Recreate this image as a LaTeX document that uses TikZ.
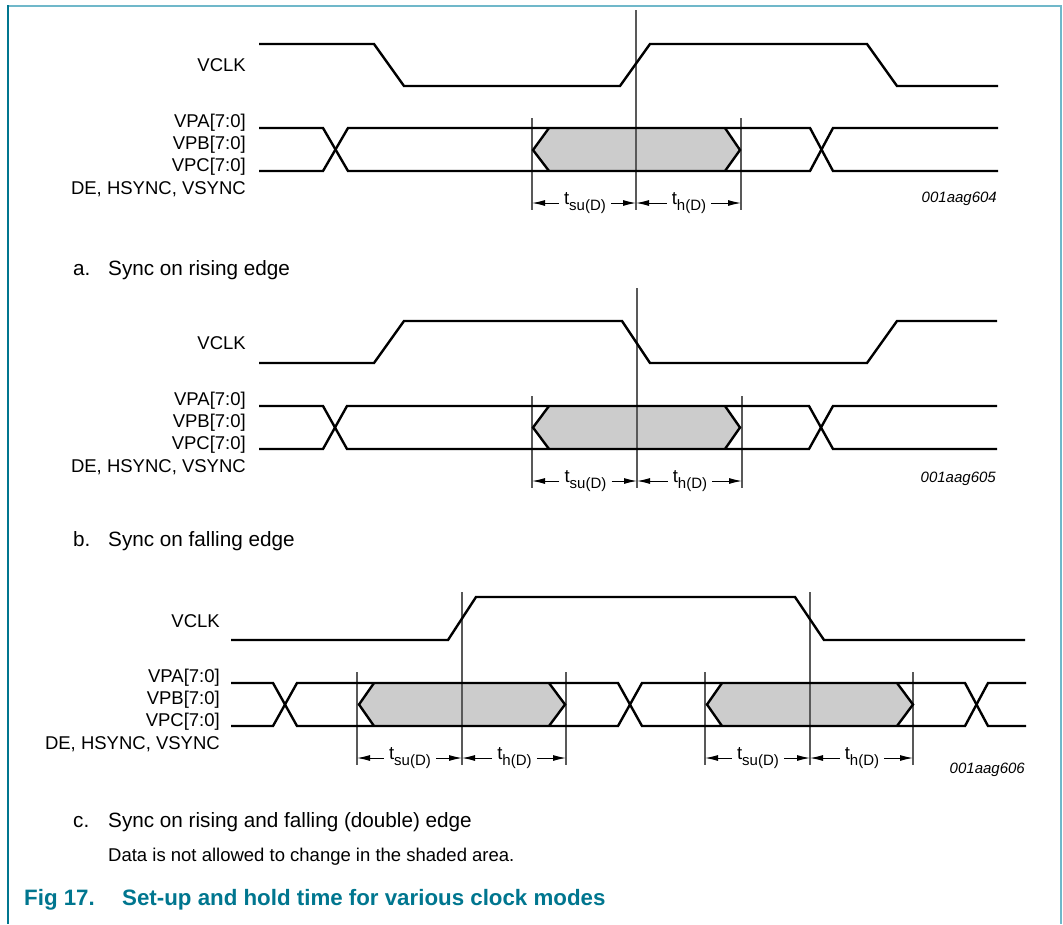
\documentclass[tikz,border=0pt]{standalone}
\usepackage{fontspec}
\setmainfont{Liberation Sans}
\usetikzlibrary{arrows.meta}
\definecolor{nxpteal}{RGB}{0,118,143}
\definecolor{framelight}{RGB}{112,184,202}
\newcommand\tsub[1]{t\raisebox{-0.32em}{\fontsize{15}{15}\selectfont #1}}
\begin{document}
\begin{tikzpicture}[x=1pt,y=-1pt,
  sig/.style={line width=2.4pt,line join=miter},
  guide/.style={line width=1.1pt,draw=black!65},
  hexfill/.style={fill=black!20,draw=none},
  dim/.style={-{Latex[length=13pt,width=6pt]},line width=1pt},
  lab/.style={font=\fontsize{18.5}{20}\selectfont,anchor=base east,inner sep=0pt},
  tlab/.style={font=\fontsize{18.5}{20}\selectfont,inner sep=5pt},
  figid/.style={font=\fontsize{15}{16}\selectfont\itshape,anchor=base east,inner sep=0pt},
  capt/.style={font=\fontsize{20.7}{22}\selectfont,anchor=base west,inner sep=0pt},
  note/.style={font=\fontsize{18.5}{20}\selectfont,anchor=base west,inner sep=0pt},
  figcap/.style={font=\fontsize{22.3}{24}\selectfont\bfseries,text=nxpteal,anchor=base west,inner sep=0pt}]
\useasboundingbox (0,0) rectangle (1063,924);
% frame
\draw[framelight,line width=2pt] (8,6) -- (1061,6) -- (1061,924);
\draw[nxpteal,line width=2pt] (8,5) -- (8,924);

% ================= a =================
\fill[hexfill] (533,150)--(549,128)--(725,128)--(740,150)--(725,171)--(549,171)--cycle;
\draw[guide] (636,10) -- (636,210);
\draw[guide] (532,118) -- (532,210);
\draw[guide] (741,118) -- (741,210);
\draw[sig] (259,44)--(374,44)--(404,86)--(620,86)--(650,44)--(867,44)--(897,86)--(998,86);
\draw[sig] (259,128)--(323,128)--(348,171)--(810,171)--(833,128)--(998,128);
\draw[sig] (259,171)--(323,171)--(348,128)--(810,128)--(833,171)--(998,171);
\draw[sig] (549,128)--(533,150)--(549,171);
\draw[sig] (725,128)--(740,150)--(725,171);
\node[lab] (a-vclk) at (246,71.5) {VCLK};
\node[lab] (a-vpa) at (246,127) {VPA[7:0]};
\node[lab] (a-vpb) at (246,149) {VPB[7:0]};
\node[lab] (a-vpc) at (246,171) {VPC[7:0]};
\node[lab] (a-de) at (246,194) {DE, HSYNC, VSYNC};
\coordinate (a-l) at (532,203);
\coordinate (a-m) at (636,203);
\coordinate (a-r) at (741,203);
\node[tlab] (a-su) at (585,203) {\tsub{su(D)}};
\node[tlab] (a-h) at (689,203) {\tsub{h(D)}};
\draw[dim] (a-su.west |- a-l) -- (a-l);
\draw[dim] (a-su.east |- a-m) -- (a-m);
\draw[dim] (a-h.west |- a-m) -- (a-m);
\draw[dim] (a-h.east |- a-r) -- (a-r);
\node[figid] (a-id) at (997,202) {001aag604};
\node[capt] (a-cl) at (73,275.5) {a.};
\node[capt] (a-ct) at (108,275.5) {Sync on rising edge};

% ================= b =================
\fill[hexfill] (533,427.5)--(549,406)--(725,406)--(740,427.5)--(725,449)--(549,449)--cycle;
\draw[guide] (637,288) -- (637,488);
\draw[guide] (532,396) -- (532,488);
\draw[guide] (742,396) -- (742,488);
\draw[sig] (259,363)--(374,363)--(404,321)--(622,321)--(650,363)--(867,363)--(897,321)--(997,321);
\draw[sig] (259,406)--(323,406)--(347,449)--(809,449)--(833,406)--(997,406);
\draw[sig] (259,449)--(323,449)--(347,406)--(809,406)--(833,449)--(997,449);
\draw[sig] (549,406)--(533,427.5)--(549,449);
\draw[sig] (725,406)--(740,427.5)--(725,449);
\node[lab] (b-vclk) at (246,349.5) {VCLK};
\node[lab] (b-vpa) at (246,405) {VPA[7:0]};
\node[lab] (b-vpb) at (246,427) {VPB[7:0]};
\node[lab] (b-vpc) at (246,449) {VPC[7:0]};
\node[lab] (b-de) at (246,472) {DE, HSYNC, VSYNC};
\coordinate (b-l) at (532,481);
\coordinate (b-m) at (637,481);
\coordinate (b-r) at (742,481);
\node[tlab] (b-su) at (585.5,481) {\tsub{su(D)}};
\node[tlab] (b-h) at (690,481) {\tsub{h(D)}};
\draw[dim] (b-su.west |- b-l) -- (b-l);
\draw[dim] (b-su.east |- b-m) -- (b-m);
\draw[dim] (b-h.west |- b-m) -- (b-m);
\draw[dim] (b-h.east |- b-r) -- (b-r);
\node[figid] (b-id) at (996,482) {001aag605};
\node[capt] (b-cl) at (73,546) {b.};
\node[capt] (b-ct) at (108,546) {Sync on falling edge};

% ================= c =================
\fill[hexfill] (359,704.5)--(374,683)--(549,683)--(565,704.5)--(549,726)--(374,726)--cycle;
\fill[hexfill] (707,704.5)--(722,683)--(897,683)--(913,704.5)--(897,726)--(722,726)--cycle;
\draw[guide] (462,592) -- (462,765);
\draw[guide] (810,592) -- (810,765);
\draw[guide] (357,672) -- (357,765);
\draw[guide] (566,672) -- (566,765);
\draw[guide] (705,672) -- (705,765);
\draw[guide] (913,672) -- (913,765);
\draw[sig] (231,640)--(448,640)--(476,597)--(795,597)--(824,640)--(1025,640);
\draw[sig] (231,683)--(273,683)--(297,726)--(618,726)--(642,683)--(965,683)--(988,726)--(1026,726);
\draw[sig] (231,726)--(273,726)--(297,683)--(618,683)--(642,726)--(965,726)--(988,683)--(1026,683);
\draw[sig] (374,683)--(359,704.5)--(374,726);
\draw[sig] (549,683)--(565,704.5)--(549,726);
\draw[sig] (722,683)--(707,704.5)--(722,726);
\draw[sig] (897,683)--(913,704.5)--(897,726);
\node[lab] (c-vclk) at (220,627) {VCLK};
\node[lab] (c-vpa) at (220,682) {VPA[7:0]};
\node[lab] (c-vpb) at (220,704) {VPB[7:0]};
\node[lab] (c-vpc) at (220,726) {VPC[7:0]};
\node[lab] (c-de) at (220,749) {DE, HSYNC, VSYNC};
\coordinate (c-l1) at (357,758);
\coordinate (c-m1) at (462,758);
\coordinate (c-r1) at (566,758);
\coordinate (c-l2) at (705,758);
\coordinate (c-m2) at (810,758);
\coordinate (c-r2) at (913,758);
\node[tlab] (c-su1) at (410,758) {\tsub{su(D)}};
\node[tlab] (c-h1) at (514.5,758) {\tsub{h(D)}};
\node[tlab] (c-su2) at (758,758) {\tsub{su(D)}};
\node[tlab] (c-h2) at (862,758) {\tsub{h(D)}};
\draw[dim] (c-su1.west |- c-l1) -- (c-l1);
\draw[dim] (c-su1.east |- c-m1) -- (c-m1);
\draw[dim] (c-h1.west |- c-m1) -- (c-m1);
\draw[dim] (c-h1.east |- c-r1) -- (c-r1);
\draw[dim] (c-su2.west |- c-l2) -- (c-l2);
\draw[dim] (c-su2.east |- c-m2) -- (c-m2);
\draw[dim] (c-h2.west |- c-m2) -- (c-m2);
\draw[dim] (c-h2.east |- c-r2) -- (c-r2);
\node[figid] (c-id) at (1025,773) {001aag606};
\node[capt] (c-cl) at (73,827.5) {c.};
\node[capt] (c-ct) at (108,827.5) {Sync on rising and falling (double) edge};
\node[note] (note) at (108,861) {Data is not allowed to change in the shaded area.};
\node[figcap] (fig) at (24,905) {Fig 17.};
\node[figcap] (figt) at (122,905) {Set-up and hold time for various clock modes};
\end{tikzpicture}
\end{document}
